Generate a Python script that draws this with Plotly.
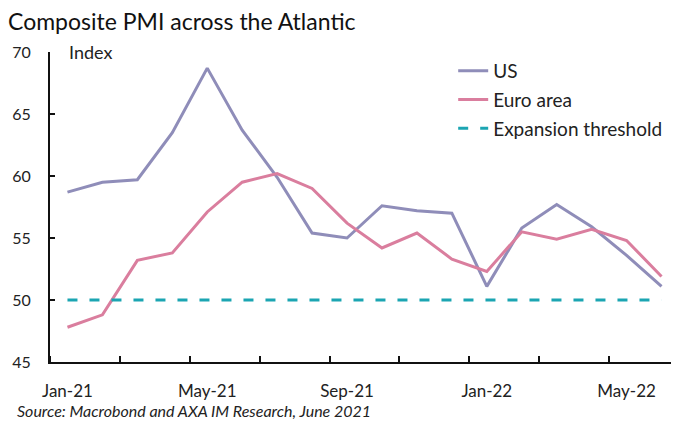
import plotly.graph_objects as go

months = ["Jan-21", "Feb-21", "Mar-21", "Apr-21", "May-21", "Jun-21", "Jul-21", "Aug-21",
          "Sep-21", "Oct-21", "Nov-21", "Dec-21", "Jan-22", "Feb-22", "Mar-22", "Apr-22",
          "May-22", "Jun-22"]
us = [58.7, 59.5, 59.7, 63.5, 68.7, 63.7, 59.9, 55.4, 55.0, 57.6, 57.2, 57.0,
      51.1, 55.8, 57.7, 55.9, 53.6, 51.1]
euro = [47.8, 48.8, 53.2, 53.8, 57.1, 59.5, 60.2, 59.0, 56.2, 54.2, 55.4, 53.3,
        52.3, 55.5, 54.9, 55.7, 54.8, 51.9]
threshold = [50] * len(months)
tick_labels = ["Jan-21", "May-21", "Sep-21", "Jan-22", "May-22"]
y_ticks = [45, 50, 55, 60, 65, 70]

FONT = "Lato"
x = list(range(len(months)))
tickvals = [months.index(t) for t in tick_labels]

fig = go.Figure()
fig.add_trace(go.Scatter(x=x, y=us, mode="lines", name="US", legendgroup="a",
                         line=dict(color="#8F8DB9", width=3)))
fig.add_trace(go.Scatter(x=x, y=euro, mode="lines", name="Euro area", legendgroup="b",
                         line=dict(color="#DA7E9E", width=3)))
fig.add_trace(go.Scatter(x=x, y=threshold, mode="lines", name="Expansion threshold",
                         legendgroup="c",
                         line=dict(color="#1BA5B2", width=3, dash="10px,12px")))

# page body adds an 8px margin, so the figure is sized/positioned to compensate
fig.update_layout(
    width=671, height=413,
    margin=dict(l=42, r=0, t=44, b=59),
    paper_bgcolor="white", plot_bgcolor="white",
    font=dict(family=FONT, size=15, color="#222222"),
    title=dict(text="Composite PMI across the Atlantic", x=0.0, xanchor="left",
               xref="container", yref="container", y=0.966, yanchor="middle",
               pad=dict(l=0, r=0, t=0, b=0),
               font=dict(family=FONT, size=23, color="#111111")),
    showlegend=True,
    legend=dict(x=0.641, y=1.0, xanchor="left", yanchor="top",
                bgcolor="rgba(0,0,0,0)", font=dict(family=FONT, size=19, color="#222222"),
                tracegroupgap=1, itemwidth=30),
    xaxis=dict(range=[-0.5, len(months) - 0.5], tickmode="array", tickvals=tickvals,
               ticktext=tick_labels, ticks="", showgrid=False, zeroline=False,
               showline=True, linecolor="#111111", linewidth=2,
               tickfont=dict(family=FONT, size=17), ticklabelstandoff=13,
               minor=dict(tick0=-0.5, dtick=2, ticks="inside", ticklen=6,
                          tickwidth=2, tickcolor="#111111", showgrid=False)),
    yaxis=dict(range=[45, 70], tickmode="array", tickvals=y_ticks, ticks="inside",
               ticklen=5, tickwidth=2, tickcolor="#111111", showgrid=False,
               zeroline=False, showline=True, linecolor="#111111", linewidth=2,
               tickfont=dict(family=FONT, size=16), ticklabelstandoff=14),
    annotations=[
        dict(text="Index", xref="paper", yref="paper", x=0.027, y=1.0,
             xanchor="left", yanchor="middle", showarrow=False,
             font=dict(family=FONT, size=18, color="#222222")),
        dict(text="<i>Source: Macrobond and AXA IM Research, June 2021</i>",
             xref="paper", yref="paper", x=-0.056, y=-0.155, xanchor="left",
             yanchor="middle", showarrow=False,
             font=dict(family=FONT, size=16, color="#222222")),
    ],
)

fig.write_html("out.html")
